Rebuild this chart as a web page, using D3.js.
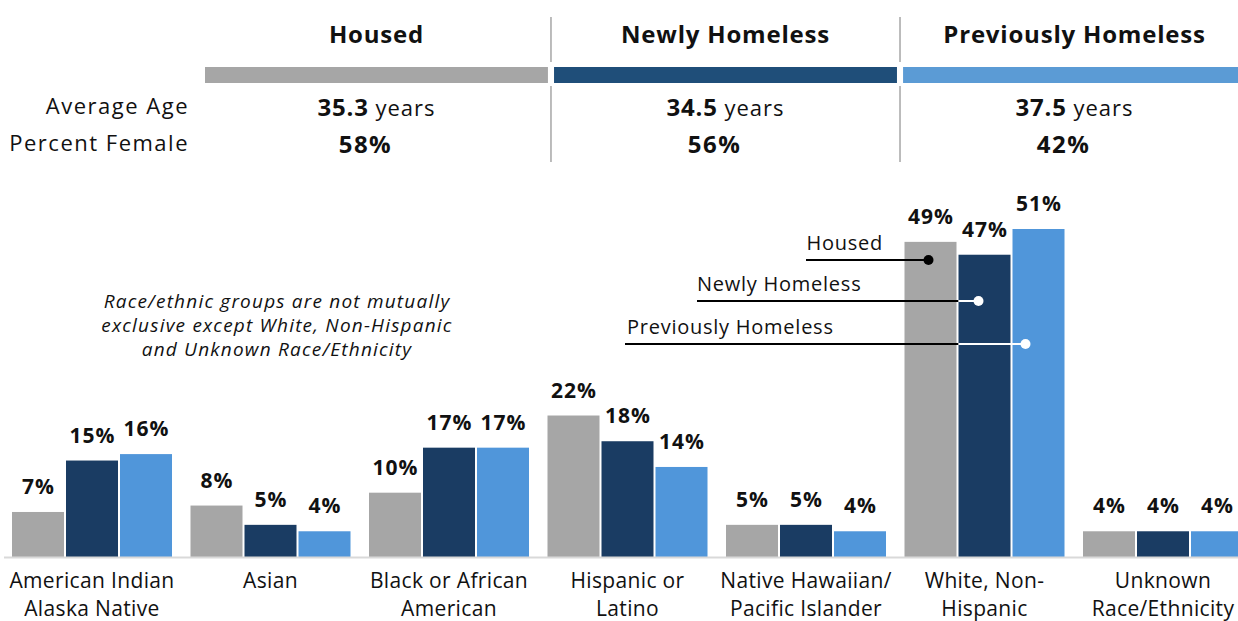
<!DOCTYPE html>
<html>
<head>
<meta charset="utf-8">
<script src="https://cdn.jsdelivr.net/npm/d3@7"></script>
<style>
  html, body { margin: 0; padding: 0; background: #fff; }
  svg { display: block; font-family: "Open Sans", "Noto Sans", sans-serif; }
</style>
</head>
<body>
<svg id="chart" width="1238" height="621"></svg>
<script>
// Groups and series
const categories = [
  ["American Indian", "Alaska Native"],
  ["Asian"],
  ["Black or African", "American"],
  ["Hispanic or", "Latino"],
  ["Native Hawaiian/", "Pacific Islander"],
  ["White, Non-", "Hispanic"],
  ["Unknown", "Race/Ethnicity"]
];
const seriesNames = ["Housed", "Newly Homeless", "Previously Homeless"];
const housed = [7, 8, 10, 22, 5, 49, 4];
const newlyHomeless = [15, 5, 17, 18, 5, 47, 4];
const previouslyHomeless = [16, 4, 17, 14, 4, 51, 4];

// Summary table
const averageAge = ["35.3", "34.5", "37.5"];
const percentFemale = ["58%", "56%", "42%"];

const barColors = ["#A6A6A6", "#1A3C63", "#5096DA"];
const bandColors = ["#A6A6A6", "#1F4E79", "#5B9BD5"];

const svg = d3.select("#chart");
const W = 1238;

// ---- Summary header ----
const colX = d3.scaleBand().domain(seriesNames).range([205, 1246]).paddingInner(0.0175);
const head = svg.append("g");
seriesNames.forEach((s, i) => {
  const x0 = colX(s), bw = colX.bandwidth(), cx = x0 + bw / 2;
  head.append("text").attr("x", cx).attr("y", 43).attr("text-anchor", "middle")
    .attr("font-size", 24).attr("font-weight", 700).attr("letter-spacing", 0.8)
    .attr("fill", "#111").text(s);
  head.append("rect").attr("x", x0).attr("y", 67).attr("width", bw).attr("height", 16)
    .attr("fill", bandColors[i]);
  const age = head.append("text").attr("x", cx).attr("y", 116).attr("text-anchor", "middle").attr("fill", "#111");
  age.append("tspan").attr("font-size", 24).attr("font-weight", 700).attr("letter-spacing", 0.8).text(averageAge[i]);
  age.append("tspan").attr("font-size", 22).attr("letter-spacing", 1).text(" years");
  head.append("text").attr("x", cx - 11).attr("y", 153).attr("text-anchor", "middle")
    .attr("font-size", 24).attr("font-weight", 700).attr("letter-spacing", 1.5)
    .attr("fill", "#111").text(percentFemale[i]);
});
// column dividers
[1, 2].forEach(i => {
  const xd = colX(seriesNames[i]) - colX.step() * colX.paddingInner() / 2;
  head.append("line").attr("x1", xd).attr("x2", xd).attr("y1", 17).attr("y2", 62)
    .attr("stroke", "#A6A6A6").attr("stroke-width", 1.5);
  head.append("line").attr("x1", xd).attr("x2", xd).attr("y1", 86).attr("y2", 162)
    .attr("stroke", "#A6A6A6").attr("stroke-width", 1.5);
});
head.append("text").attr("x", 189).attr("y", 114).attr("text-anchor", "end")
  .attr("font-size", 22).attr("letter-spacing", 1.5).attr("fill", "#111").text("Average Age");
head.append("text").attr("x", 189).attr("y", 151).attr("text-anchor", "end")
  .attr("font-size", 22).attr("letter-spacing", 1.5).attr("fill", "#111").text("Percent Female");

// ---- Bar chart ----
const baseline = 557;
const x = d3.scaleBand().domain(d3.range(categories.length))
  .range([2.75, 2.75 + 7 * 178.5]).paddingInner(0.1036).paddingOuter(0.0518);
const xs = d3.scaleBand().domain(seriesNames).range([0, x.bandwidth()]).paddingInner(0.037);
const y = d3.scaleLinear().domain([0, 51]).range([baseline, baseline - 328]);

const table = categories.map((c, i) => ({
  label: c,
  values: [housed[i], newlyHomeless[i], previouslyHomeless[i]]
}));

const groups = svg.append("g").selectAll("g").data(table).join("g")
  .attr("transform", (d, i) => `translate(${x(i)},0)`);

groups.selectAll("rect").data(d => d.values.map((v, j) => ({ v, s: seriesNames[j], j })))
  .join("rect")
  .attr("x", d => xs(d.s)).attr("width", xs.bandwidth())
  .attr("y", d => y(d.v)).attr("height", d => baseline - y(d.v))
  .attr("fill", d => barColors[d.j]);

groups.selectAll("text.val").data(d => d.values.map((v, j) => ({ v, s: seriesNames[j] })))
  .join("text").attr("class", "val")
  .attr("x", d => xs(d.s) + xs.bandwidth() / 2 + 0.5).attr("y", d => y(d.v) - 18)
  .attr("text-anchor", "middle").attr("font-size", 21).attr("font-weight", 700)
  .attr("letter-spacing", 1).attr("fill", "#111").text(d => d.v + "%");

// axis baseline
svg.append("line").attr("x1", 4).attr("x2", W).attr("y1", baseline + 0.5).attr("y2", baseline + 0.5)
  .attr("stroke", "#D9D9D9").attr("stroke-width", 2);

// category labels
groups.each(function (d) {
  const t = d3.select(this).append("text").attr("text-anchor", "middle")
    .attr("font-size", 21).attr("letter-spacing", 0.35).attr("fill", "#111");
  d.label.forEach((line, k) => {
    t.append("tspan").attr("x", x.bandwidth() / 2).attr("y", 588 + k * 28).text(line);
  });
});

// note
const note = svg.append("text").attr("text-anchor", "middle").attr("font-size", 19)
  .attr("font-style", "italic").attr("letter-spacing", 1.2).attr("fill", "#111");
["Race/ethnic groups are not mutually", "exclusive except White, Non-Hispanic", "and Unknown Race/Ethnicity"]
  .forEach((line, k) => note.append("tspan").attr("x", 277).attr("y", 308 + k * 24).text(line));

// ---- Legend callouts on the White, Non-Hispanic group ----
const wi = 5;
const gx = x(wi);
const legendItems = [
  { name: seriesNames[0], textEnd: 883, textStart: null, lineX: 806, ly: 260, dotX: gx + xs(seriesNames[0]) + 24, dot: "#000" },
  { name: seriesNames[1], textStart: 697, lineX: 697, ly: 301, dotX: gx + xs(seriesNames[1]) + 20, dot: "#fff" },
  { name: seriesNames[2], textStart: 627, lineX: 625, ly: 344, dotX: gx + xs(seriesNames[2]) + 13, dot: "#fff" }
];
const darkStart = gx + xs(seriesNames[1]);
const leg = svg.append("g");
legendItems.forEach(it => {
  const t = leg.append("text").attr("y", it.ly - 10).attr("font-size", 20)
    .attr("letter-spacing", 0.75).attr("fill", "#111").text(it.name);
  if (it.textStart === null) t.attr("x", it.textEnd).attr("text-anchor", "end");
  else t.attr("x", it.textStart);
  const blackEnd = Math.min(it.dotX, darkStart);
  leg.append("line").attr("x1", it.lineX).attr("x2", blackEnd).attr("y1", it.ly).attr("y2", it.ly)
    .attr("stroke", "#000").attr("stroke-width", 2);
  if (it.dotX > darkStart) {
    leg.append("line").attr("x1", darkStart).attr("x2", it.dotX).attr("y1", it.ly).attr("y2", it.ly)
      .attr("stroke", "#fff").attr("stroke-width", 2);
  }
  leg.append("circle").attr("cx", it.dotX).attr("cy", it.ly).attr("r", 5).attr("fill", it.dot);
});
</script>
</body>
</html>
